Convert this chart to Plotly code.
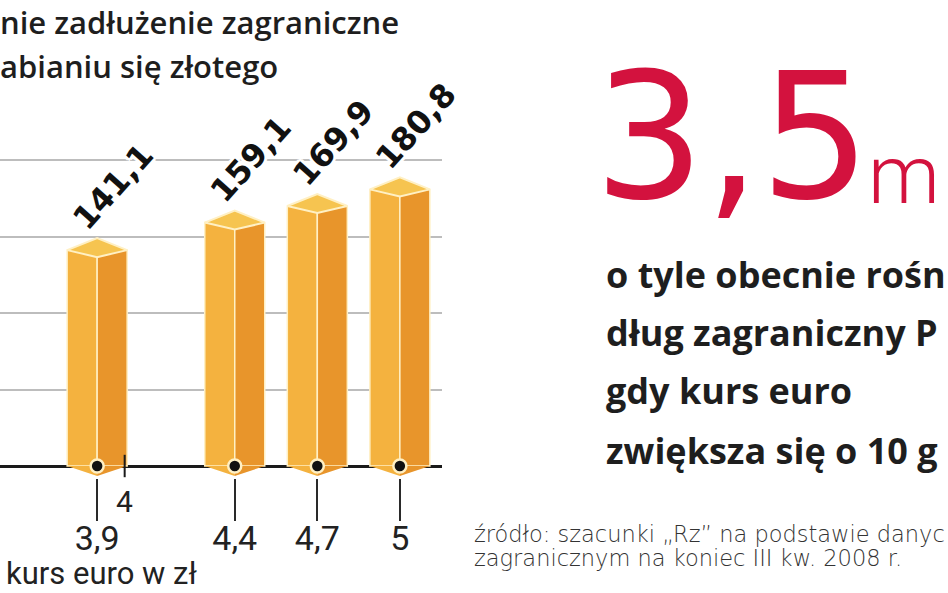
import plotly.graph_objects as go

# ---------------- data ----------------
kurs = [3.4, 3.9, 4.4, 4.7, 5.0]                 # EUR/PLN exchange rate
dlug = [123.4, 141.1, 159.1, 169.9, 180.8]       # foreign debt, bln zł
extra_tick = [4.0]                               # plain axis tick
value_labels = [f"{v:.1f}".replace(".", ",") for v in dlug]
tick_labels = [f"{k:g}".replace(".", ",") for k in kurs]
extra_tick_labels = [f"{k:g}".replace(".", ",") for k in extra_tick]

title_lines = ["nie zadłużenie zagraniczne", "abianiu się złotego"]
big_number = "3,5"
big_unit = "m"
desc_lines = ["o tyle obecnie rośn", "dług zagraniczny P", "gdy kurs euro", "zwiększa się o 10 g"]
source_lines = ["źródło: szacunki „Rz” na podstawie danyc", "zagranicznym na koniec III kw. 2008 r."]
x_title = "kurs euro w zł"

# ---------------- geometry / style ----------------
W, H = 948, 593
PX_PER_K = 275.2          # horizontal scale (px per 1 zł)
K_AT_PX0 = 3.547          # kurs value at the left figure edge
X_DOM_END_PX = 442
PX_PER_U = 1.53           # vertical scale (px per bln zł)
BASE_PX = 466             # pixel row of value 0
Y_MIN, Y_MAX = -8, 201

BW = 30 / PX_PER_K        # half bar width (kurs units)
CAP_UP = 12 / PX_PER_U
CAP_DN = 7 / PX_PER_U
V_BOT = 10 / PX_PER_U
LABEL_SHIFT = 16 / PX_PER_K
LABEL_LIFT = 8.5

C_LIGHT = "#F4B23F"
C_DARK = "#E8952B"
C_CAP = "#F6C450"
C_EDGE = "#FFF0C4"
WHITE_HALO = ("3px 0 0 #fff, -3px 0 0 #fff, 0 3px 0 #fff, 0 -3px 0 #fff, "
              "2px 2px 0 #fff, -2px -2px 0 #fff, 2px -2px 0 #fff, -2px 2px 0 #fff")

x_range = [K_AT_PX0, K_AT_PX0 + X_DOM_END_PX / PX_PER_K]
top_px = BASE_PX - Y_MAX * PX_PER_U
bot_px = BASE_PX - Y_MIN * PX_PER_U
y_domain = [1 - bot_px / H, 1 - top_px / H]

fig = go.Figure()

# bar faces
fig.add_trace(go.Bar(x=kurs, y=dlug, width=BW, offset=-BW,
                     marker=dict(color=C_LIGHT, line=dict(color=C_EDGE, width=1.5)),
                     cliponaxis=False, hoverinfo="skip"))
fig.add_trace(go.Bar(x=kurs, y=dlug, width=BW, offset=0,
                     marker=dict(color=C_DARK, line=dict(color=C_EDGE, width=1.5)),
                     cliponaxis=False, hoverinfo="skip"))

# value labels (transparent helper bars carrying rotated outside text)
fig.add_trace(go.Bar(x=kurs, y=dlug, base=LABEL_LIFT, width=0.01,
                     offset=LABEL_SHIFT - 0.005,
                     marker=dict(color="rgba(0,0,0,0)", line=dict(width=0)),
                     text=value_labels, textposition="outside", textangle=-48,
                     constraintext="none", cliponaxis=False,
                     textfont=dict(family="DejaVu Sans", size=32, color="#111111",
                                   weight="bold", shadow=WHITE_HALO),
                     hoverinfo="skip"))

# caps and V-shaped bottoms
cap_x, cap_y, bl_x, bl_y, br_x, br_y = [], [], [], [], [], []
for k, v in zip(kurs, dlug):
    cap_x += [k - BW, k, k + BW, k, k - BW, None]
    cap_y += [v, v + CAP_UP, v, v - CAP_DN, v, None]
    bl_x += [k - BW, k, k, k - BW, None]
    bl_y += [0, 0, -V_BOT, 0, None]
    br_x += [k, k + BW, k, k, None]
    br_y += [0, 0, -V_BOT, 0, None]

fig.add_trace(go.Scatter(x=bl_x, y=bl_y, mode="lines", fill="toself", fillcolor=C_LIGHT,
                         line=dict(width=0, color=C_LIGHT), hoverinfo="skip"))
fig.add_trace(go.Scatter(x=br_x, y=br_y, mode="lines", fill="toself", fillcolor=C_DARK,
                         line=dict(width=0, color=C_DARK), hoverinfo="skip"))
fig.add_trace(go.Scatter(x=cap_x, y=cap_y, mode="lines", fill="toself", fillcolor=C_CAP,
                         line=dict(width=2, color=C_EDGE), hoverinfo="skip"))

# dots on the axis
fig.add_trace(go.Scatter(x=kurs, y=[0] * len(kurs), mode="markers", cliponaxis=False,
                         marker=dict(size=13, color="#111111",
                                     line=dict(color=C_EDGE, width=2.5)),
                         hoverinfo="skip"))
# cross tick at 4
fig.add_trace(go.Scatter(x=extra_tick, y=[0] * len(extra_tick), mode="markers",
                         cliponaxis=False,
                         marker=dict(symbol="line-ns", size=16,
                                     line=dict(color="#1a1a1a", width=2)),
                         hoverinfo="skip"))

fig.update_layout(
    width=W, height=H, margin=dict(l=0, r=0, t=0, b=0),
    paper_bgcolor="white", plot_bgcolor="white", showlegend=False,
    separators=", ", barmode="overlay",
    xaxis=dict(domain=[0, X_DOM_END_PX / W], range=x_range, showgrid=False,
               zeroline=False, showline=False, layer="below traces",
               tickmode="array", tickvals=kurs, ticktext=tick_labels,
               ticks="outside", ticklen=42, tickwidth=1.5, tickcolor="#2a2a2a",
               ticklabelstandoff=-12,
               tickfont=dict(family="Roboto", size=34, color="#222222")),
    yaxis=dict(domain=y_domain, range=[Y_MIN, Y_MAX], showticklabels=False,
               tickmode="array", tickvals=[50, 100, 150, 200], ticks="",
               showgrid=True, gridcolor="#BDBDBD", gridwidth=2,
               zeroline=True, zerolinecolor="#1a1a1a", zerolinewidth=2.5,
               showline=False, layer="below traces"),
)


def py(px):
    return 1 - px / H


def px_(x):
    return x / W


ann = []
# "4" tick label
for k, t in zip(extra_tick, extra_tick_labels):
    ann.append(dict(x=k, y=0, xref="x", yref="y", text=t, showarrow=False,
                    xanchor="center", yanchor="top", yshift=-16,
                    font=dict(family="Roboto", size=30, color="#222222")))
# title
for t, base in zip(title_lines, [33, 77]):
    ann.append(dict(x=px_(-2), y=py(base - 0.36 * 31), xref="paper", yref="paper",
                    text=t, showarrow=False, xanchor="left", yanchor="middle",
                    font=dict(family="Open Sans", size=31, color="#1e1e1e", weight=600)))
# x title
ann.append(dict(x=px_(4), y=py(584 - 0.342 * 31), xref="paper", yref="paper",
                text=x_title, showarrow=False, xanchor="left", yanchor="middle",
                font=dict(family="Roboto", size=31, color="#222222")))
# big number
ann.append(dict(x=px_(592), y=py(198 - 0.35 * 174), xref="paper", yref="paper",
                text=big_number, showarrow=False, xanchor="left", yanchor="middle",
                font=dict(family="DejaVu Sans", size=174, color="#D3123E")))
ann.append(dict(x=px_(866), y=py(203 - 0.342 * 81), xref="paper", yref="paper",
                text=big_unit, showarrow=False, xanchor="left", yanchor="middle",
                font=dict(family="Roboto", size=81, color="#D3123E", weight=300)))
# description
for t, base in zip(desc_lines, [287, 345, 403, 463]):
    ann.append(dict(x=px_(604), y=py(base - 0.36 * 36), xref="paper", yref="paper",
                    text=t, showarrow=False, xanchor="left", yanchor="middle",
                    font=dict(family="Open Sans", size=36, color="#1e1e1e", weight=700)))
# source
for t, base in zip(source_lines, [542, 566]):
    ann.append(dict(x=px_(472), y=py(base - 0.35 * 22.5), xref="paper", yref="paper",
                    text=t, showarrow=False, xanchor="left", yanchor="middle",
                    font=dict(family="DejaVu Sans", size=22.5, color="#333333", weight=200)))

fig.update_layout(annotations=ann)
fig.write_html("out.html", config={"displayModeBar": False},
               post_script="document.body.style.margin='0';document.body.style.overflow='hidden';")
